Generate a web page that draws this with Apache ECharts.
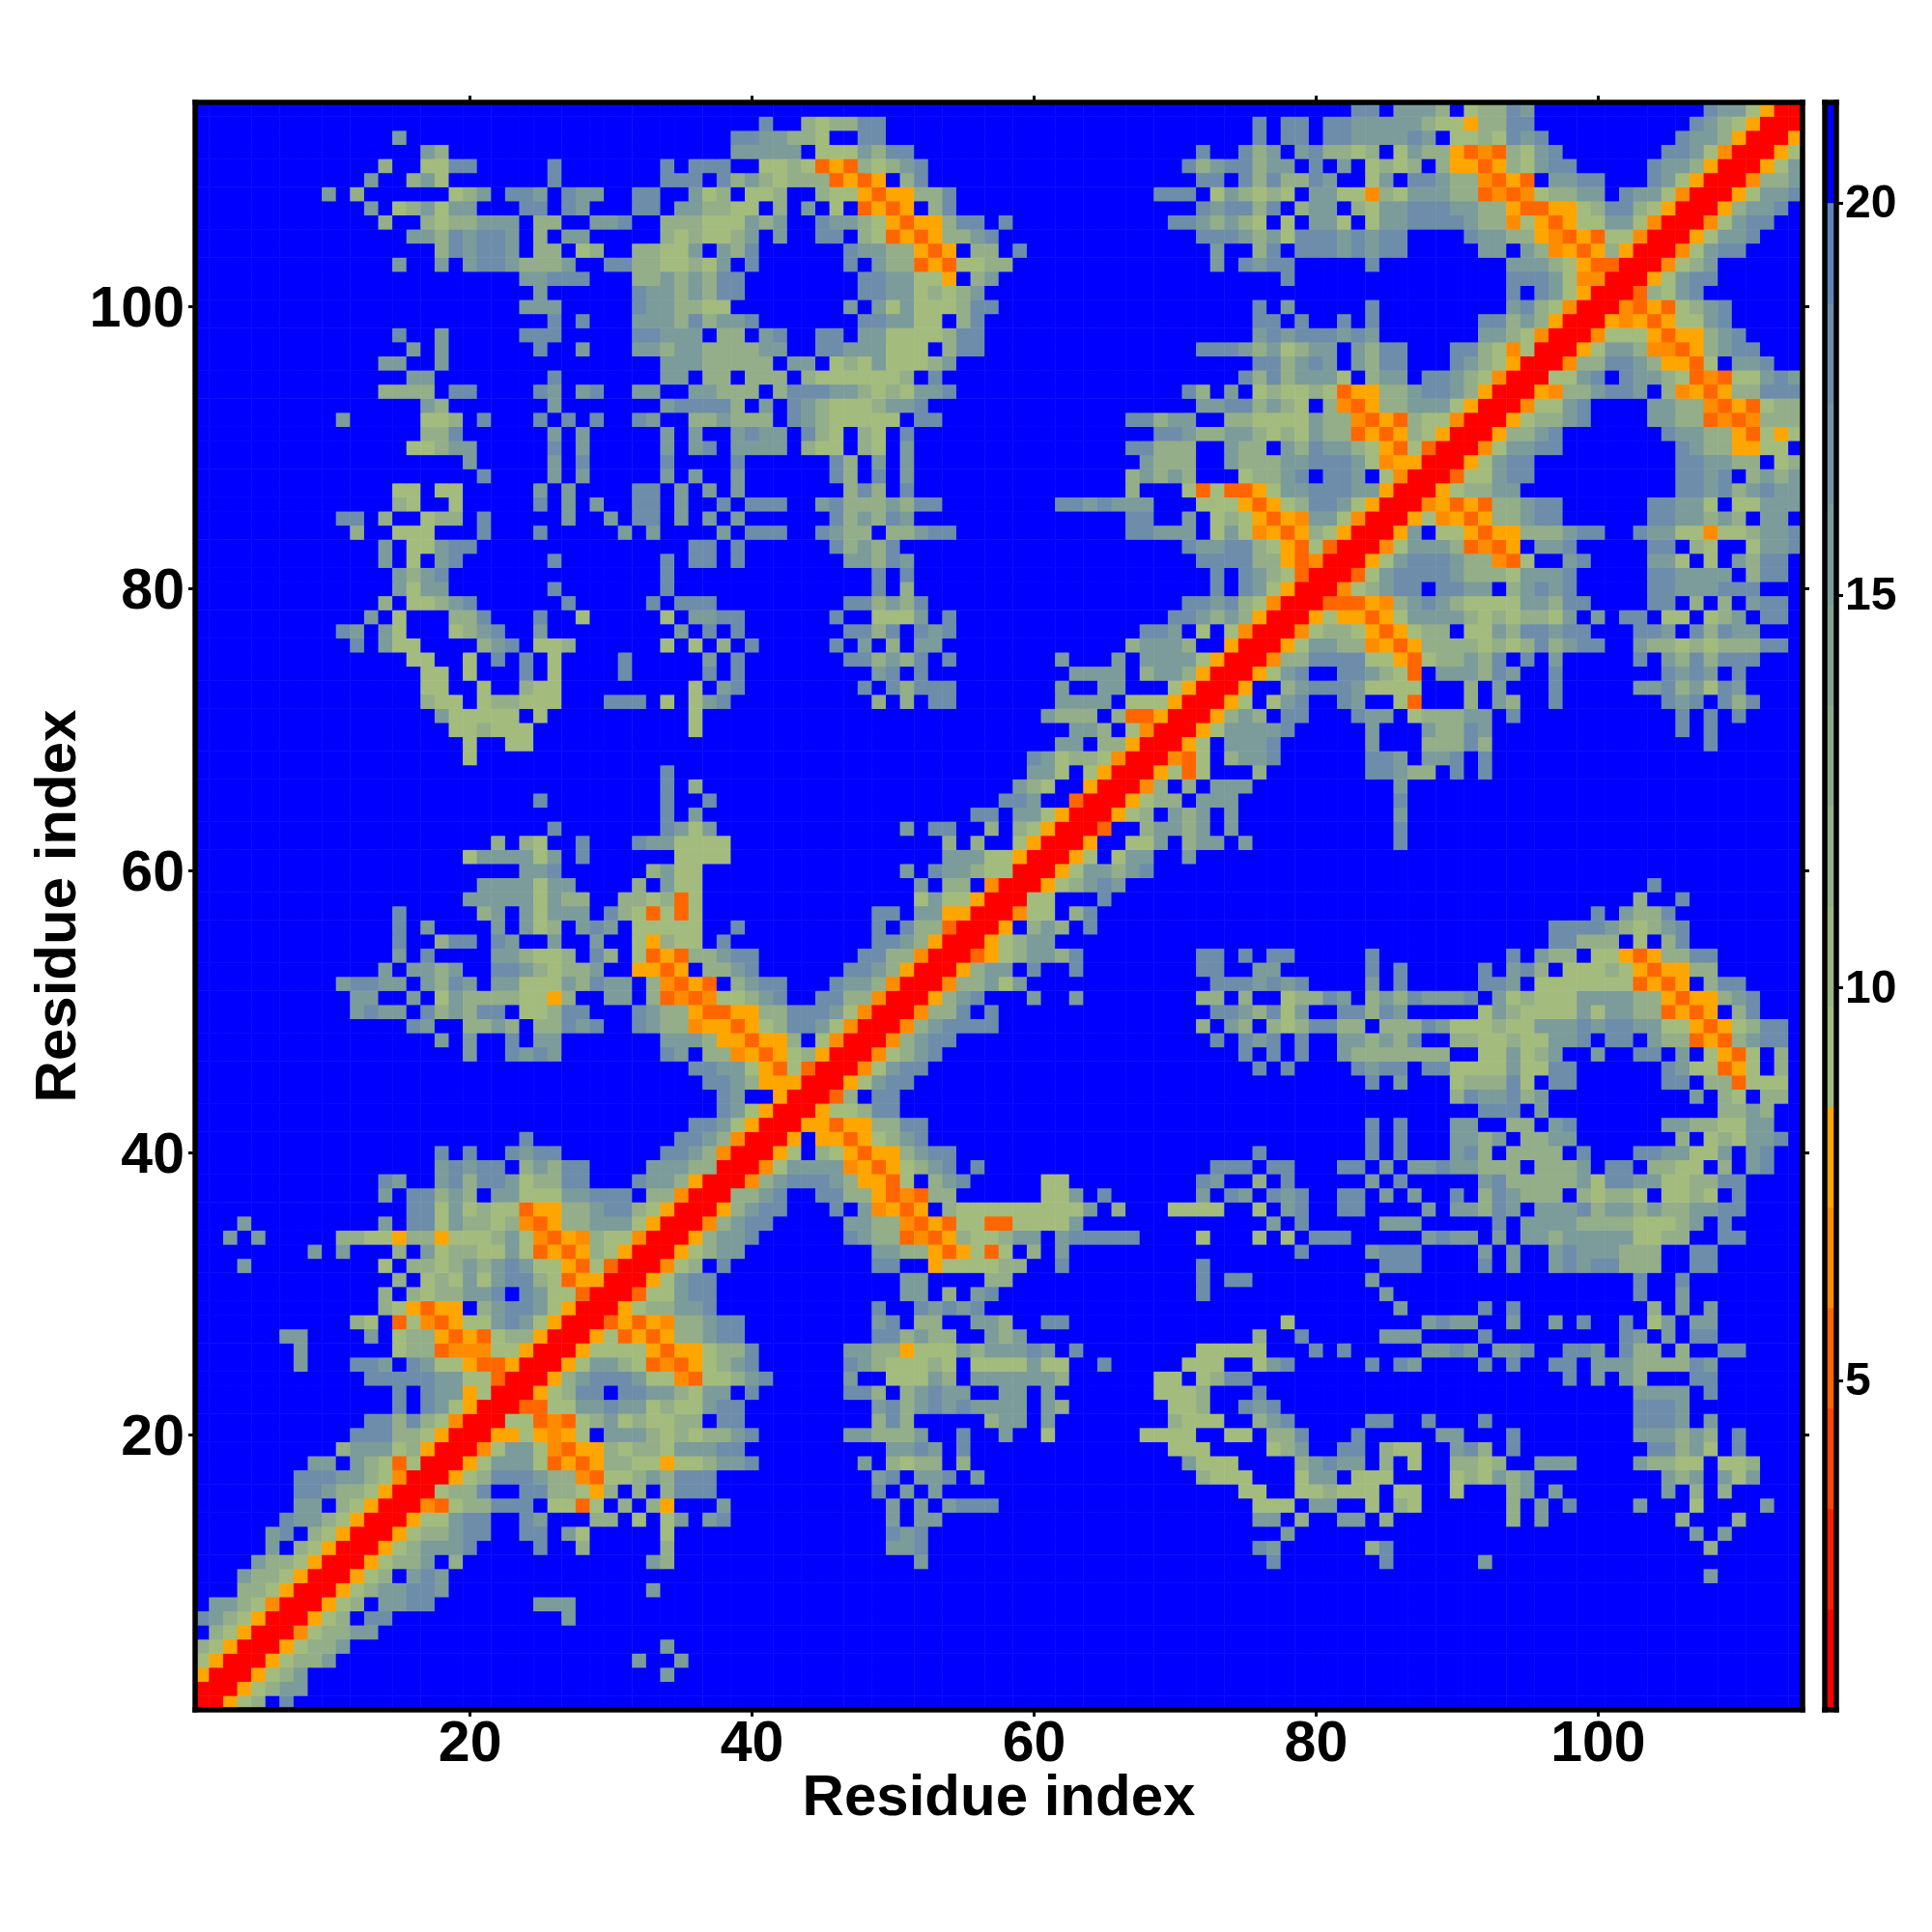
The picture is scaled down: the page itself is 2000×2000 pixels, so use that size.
<!DOCTYPE html>
<html><head><meta charset="utf-8">
<style>html,body{margin:0;padding:0;background:#fff}#c{width:2000px;height:2000px}</style>
<script src="https://cdn.jsdelivr.net/npm/echarts@6/dist/echarts.min.js"></script>
</head><body><div id="c"></div>
<script>
// Distance classes (r red ... q orange, A..D sage to steel blue).
const classValue = {r:1.5, o:5.3, p:6.5, q:7.8, A:9.1, B:11.7, C:15.0, D:18.0};
const blankValue = 21;
const residues = 114;
const breaks = [0.8,2.08,3.36,4.64,5.92,7.2,8.48,9.76,11.04,12.32,13.6,14.88,16.16,17.44,18.72,20,21.28];
const colors = ['#FF0000','#FF1E00','#FF4600','#FF6600','#FF8C00','#FFA500','#A3BB7D','#9BB582','#93AE88','#8BA88E','#84A194','#7C9B9B','#7594A2','#6D8DAA','#6084B6','#0000FF'];
const axisTicks = [20,40,60,80,100];
const barTicks = [5,10,15,20];
// One entry per residue: "startColumn:classes" runs for the cells at or right of the diagonal.
const rows = [
"1:rrqAB.D","2:rrqABCC","3:rrqABC 34:C","4:rrqABBC 32:C 35:C","5:rrqABBC 34:C","6:rrpABBCC","7:rrqAB.DD 27:C","8:rrqAB.CCDD 25:CCC","9:rrqABCCDDC 33:C","10:rrqAB.CDC 108:C",
"11:rrqABBC.B 33:CB 52:C 77:D 85:D 92:C",
"12:rrqABCCCD 25:D 28:B 34:B 50:CCD 76:DC 84:BD 108:B",
"13:rrqABBCDD 24:DD 27:CA 34:A 50:DCD 78:C 107:C 109:C",
"14:rrqAACDD 24:DC 29:BB 32:A 34:AC 37:CD 50:C 52:CC 76:CC 79:B 82:CC 85:B 94:B 96:C 106:B 110:B",
"15:rrpoABBDDD 26:AAoA 31:B 33:Bq 38:C 50:C 52:C 54:CDDD 76:AAA 80:CC 84:A 86:BA 94:B 96:C 98:D 103:C 107:A 112:C",
"16:rrABBD 24:DDBBAqB 32:B 34:BDDD 49:D 51:C 53:C 75:AA 79:AABAAA 86:AA 90:A 94:BC 97:C 105:C 107:B 109:B",
"17:rrqABDDDCBBpoAABCBDDD 49:CD 52:CCD 56:C 72:BAAA 79:ACC 83:AAA 90:ABACBC 105:CBC 109:CAC",
"18:rrqACCCAoqoqBBAAqAABCCD 48:C 50:BABB 55:B 71:CAAA 79:BCDCC 85:B 87:A 90:BBAB 96:CCC 103:CBBAA 109:AAB",
"19:rrpACCApoqqBABBACCCDD 50:CCDC 55:D 70:AAA 77:ABC 82:DD 85:BAA 90:CDB 94:D 104:DDBCA 110:D",
"20:rrqqAqpqA.CCCBABABBCD 47:CCBBBC 55:D 58:C 61:A 68:AAAA 74:AA 77:BBD 83:D 89:CC 94:D 103:CCCBCB 110:D",
"21:rrAAopoABCABAABB.DD 49:BDB 57:BCC 61:C 70:BAAA 76:BCD 84:DD 88:D 92:D 103:DDDC 108:C",
"22:rrooAACCDCCABAACDD 49:CDBCDCDCCCC 61:CB 70:AAB 75:DCD 103:DDDC",
"23:rrqABDD.DDCCBACC.D 47:DDB.BCDCC 58:CC 61:C 69:AAAB 76:D 103:CCCC 108:D",
"24:rrqBCDDDCAApoAABCD 47:C 50:AAACB 56:CCCCCCB 69:AA 72:AB 74:DD 98:D 100:C 102:CB 107:DD",
"25:rrqACCBAopoqABCD 47:DCBAAABA 56:AAAACAA 65:D 71:AAA 76:ACD 84:D 86:DC 92:D 94:D 97:DD 100:CCCBBBBDC",
"26:rrqAAAAqoqqABBD 47:CCBBqAAACBCCCDC 63:D 72:AAAAA 80:D 82:D 88:CCDC 93:CCD 98:DDC 102:DBB 106:B 109:DD",
"27:rrqAoqoqBBCDD 49:DDBCBB 57:CBC 76:B 79:D 85:CCC 92:D 102:DC 105:C 107:DD",
"28:rroqoqpBBCDD 49:CD 52:BB 56:CCB 61:DD 78:A 88:CDCC 94:C 97:C 99:D 102:D 104:AC 107:CC",
"29:rrqABBCCD 49:D 52:DCDCD 86:C 92:D 94:D 104:B 106:C 108:C",
"30:rroAACDD 51:CC 54:B 56:CD 72:D 85:C 103:D 106:C",
"31:rrqACDD 51:CC 57:BB 72:D 74:DD 84:C 103:D 106:D",
"32:rrpAB.D 49:DD 53:qAAAABB 62:D 72:D 85:DDD 92:D 94:C 97:CDCDDBBB 107:DD",
"33:rrqABCC 49:CCBBqoqAoA 60:B 62:C 79:D 84:CDDD 92:C 94:C 97:CDCCCBBB 107:DD",
"34:rrqBCCD 47:DCBBopoqBAABCC 62:CDDDDD 72:A 76:A 78:A 80:DDD 88:CDCC 93:C 95:CCBCCCCCAABB 109:DD",
"35:rrpBCDD 47:CCBBpoqoAAoo 59:AAAAC 77:C 79:D 85:CCC 93:D 95:CCCCBBBBAAABC 109:D",
"36:rrqBCDD 46:D 48:Cpqoq 54:BAAAAAAAAAC 66:B 70:AAAA 76:A 78:CD 82:DD 88:C 90:CCBDC 96:CCCDBCCBCBBCCDD",
"37:rrBBCD 45:DDBBqopoBB 61:AAC 65:D 72:C 74:DC 77:DCD 82:DD 85:C 87:C 90:D 92:BDCBBB 99:BABBA 105:AABA 110:D",
"38:rrpBCDDDCBqqoA.BCD 61:AA 72:DC 76:B 78:D 84:C 86:D 92:CDBBBBBCADDCCAABBDD",
"39:rrpACCCCpqoqABCD.D 73:DDD 77:DD 82:DD 85:C 87:CCDCCBBB 96:BBBC 101:DD 104:BBAA 109:B 111:CD",
"40:rrqA.BAqoqqBCDD 76:D 84:D 86:D 90:CDB 94:BBBB 99:D 103:DDCCAAC 111:CD",
"41:rrq.qqoqABCD 84:D 86:D 90:CCBC 95:BBCC 106:B 108:ABACCD",
"42:rrqqoqqBBDD 84:D 86:D 90:CC 94:BB 97:CD 105:CCBBAACC",
"43:rrqAABDD 92:DDD 96:C 109:BBCB",
"44:rroB.DD 90:BDCCDBC 107:C 109:BA 112:BB",
"45:rrqACDD 84:D 86:C 90:ABBBDA 97:DD 105:DD 108:BBoAAA",
"46:rrpACDD 76:D 78:D 83:DCDD 88:DD 90:AAAACAA 97:DD 105:DCAAoqA 113:B",
"47:rrpABCD 75:D 77:D 79:D 82:CBBBBBBB 92:AACABC 100:C 103:DD 106:C 108:AqoA 113:B",
"48:rrpBCDD 73:D 75:DCD 79:D 82:CCBCBD 90:BBAABAACCD 101:DD 104:CBBoqoBCDD",
"49:rrpBCDDDD 72:B 74:CB 77:BABDDBB 85:BBBDCAAABAACCCDCDDCCAAqoqABDD",
"50:rrpBBD.D 73:DDCBDAC 82:DD 84:BDC 92:ACBAAAACACCBBoqoq.BD",
"51:rrqBCD 60:C 63:C 72:BB 75:B 78:ABBDC 84:BCBD 88:CCCD 93:CABAAACCCCBBqoqqBCD",
"52:rrpBBCAC 73:DDDCDCD 84:C 86:D 92:DDC 96:AAAAAAAoqoq.BDD",
"53:rrqBCC.D 63:D 72:DD 76:CC 84:D 86:D 92:D 94:CDB 98:AAABAqoqqBB",
"54:rroqABCCBD 72:DD 75:D 77:DD 84:D 94:D 96:CBB 100:AAqoqBBDD",
"55:rrqABCC 97:DDBBB 103:A 105:BD",
"56:rrq.BCB.D 97:DDDDCBABCD",
"57:rrpAA.BD 100:D 102:CBBD",
"58:rrAA 65:D 103:B 106:D",
"59:rrqABCDC 104:D",
"60:rrqACCBCD",
"61:rrqA.ACC 71:C",
"62:rrq..AAC.BCC.C 86:D",
"63:rro..BCCBC.C 86:D",
"64:rrqAB.CBC.C 86:C",
"65:rrqABB.CCC 86:D",
"66:rrpB.B.CCC 86:C",
"67:rrqAoA 76:B 84:DDCBB 90:D 92:D",
"68:rrpoA.BCCD 84:DDC 88:CCD 92:D",
"69:rrqA.CCCD 84:C 88:BBBDB 108:D",
"70:rrqACCCCD 84:C 88:CBBDC 106:D 108:D",
"71:rrqBCB.DD 83:DCC 87:ABBBCC 94:D 106:D 108:D 110:D",
"72:rrqA.ACD 82:DC 86:Ao 91:B 93:CB 97:D 105:DCD 109:DBD",
"73:rrq..BCDDDCAAA 87:A 91:B 93:C 97:D 103:CCDBCADC",
"74:rrqACD 82:DDCBAo 89:CCCBDC 97:D 105:DCDC 110:D",
"75:rrpBBDDDDAAqoABBCBD 95:D 97:C 103:D 105:CBDBDDD",
"76:rrqACCBBpqoqBBBBABABDBCDD 103:CBBABABBBDD",
"77:rrpABBAqoqABB.AACBDDCDD 103:DDC.DBDCC",
"78:rrqAqqoqACCCCBABABBAC.C 102:DD 105:AA 108:ABC 112:DD",
"79:rroooqpBCDCBAAAACCBDD 104:DD 107:B 109:B 111:CDD",
"80:rrpABCDD.DDCC.BCDCD 104:DDCCCDDD",
"81:rroACDDDDCBBBACCCD 104:DDCCCC.BDD",
"82:rrqACDDDCBBpoA..CD 104:CCA.A.CBDD",
"83:rrpACCCBopoq.CCD 104:DD.BA..ACCD",
"84:rrqC.AAqoqqBBBCDD 103:DCCAApAABCCD",
"85:rrqApqoqBBCDD 104:DDCCBCB.CC",
"86:rrpqoqoBBCDD 104:DDCCA.AACCC",
"87:rrqABBCC 106:DDCDBCDCC",
"88:rroAACDD 106:DDCD.BCBC",
"89:rrqACDD 106:DDCCBB.AB",
"90:rrpACCDD 106:DCBBqqAA",
"91:rrqBBCD 105:DCCBBqoAqA",
"92:rrqABBCD 104:CCBBopopBBB",
"93:rrpAACD 104:CCBBpoqoABB",
"94:rrqpBBCDDC.BpqoqBBDDD",
"95:rrAACD.DCCBAopoAACDC",
"96:rrpBBDDCBqqoA.CCD",
"97:rrqACCBppoqBCDD",
"98:rrpAAAqoqqBCD",
"99:rrqpqoqAACD",
"100:rrpoqoABCD",
"101:rroBACD",
"102:rrqACDD",
"103:rrpABC",
"104:rrpACDD",
"105:rrqACCD",
"106:rrpACDD",
"107:rrqBCCD",
"108:rrqACCD",
"109:rrpBBC",
"110:rrqAC",
"111:rrqA",
"112:rrq",
"113:rr",
"114:r"
];

const labels = Array.from({length:residues},(_,i)=>String(i+1));
const grid = labels.map(()=>labels.map(()=>blankValue));
rows.forEach((row,r)=>{
  row.split(' ').forEach(seg=>{
    const [start,chars] = seg.split(':');
    [...chars].forEach((ch,k)=>{
      if(ch==='.') return;
      const c = +start-1+k;
      if(c<residues){ grid[r][c]=classValue[ch]; grid[c][r]=classValue[ch]; }
    });
  });
});
const cells=[];
grid.forEach((line,y)=>line.forEach((v,x)=>cells.push([x,y,v])));
const bandLabels = colors.map((_,i)=>String(i));
const bandCells = colors.map((_,i)=>[0,i,(breaks[i]+breaks[i+1])/2]);
const pieces = colors.map((color,i)=>({gte:breaks[i],lt:breaks[i+1],color}));

const font='"Liberation Sans"';
const frame={show:true,lineStyle:{color:'#000',width:5.5,cap:'square'}};
const showIdx=(i)=>axisTicks.includes(i+1);
const tick={show:true,alignWithLabel:true,interval:showIdx,length:7,lineStyle:{color:'#000',width:3}};
const bigLabel={show:true,interval:showIdx,color:'#000',fontFamily:font,fontWeight:'bold',fontSize:59};
const nameStyle={color:'#000',fontFamily:font,fontWeight:'bold',fontSize:60};
const off={show:false};
const chart=echarts.init(document.getElementById('c'),null,{renderer:'canvas'});
chart.setOption({
  animation:false,
  backgroundColor:'#fff',
  visualMap:{type:'piecewise',show:false,seriesIndex:[0,1],pieces},
  grid:[
    {left:202,top:106,width:1664,height:1664,outerBoundsMode:'none'},
    {left:1889,top:106,width:12,height:1664,outerBoundsMode:'none'}
  ],
  xAxis:[
    {type:'category',gridIndex:0,position:'bottom',data:labels,z:10,axisLine:frame,axisTick:tick,splitLine:off,
      axisLabel:{...bigLabel,margin:7},name:'Residue index',nameLocation:'middle',nameGap:62,nameMoveOverlap:false,nameTextStyle:nameStyle},
    {type:'category',gridIndex:0,position:'top',data:labels,z:10,axisLine:frame,axisTick:tick,axisLabel:off,splitLine:off},
    {type:'category',gridIndex:1,position:'bottom',data:['0'],z:10,axisLine:frame,axisTick:off,axisLabel:off,splitLine:off},
    {type:'category',gridIndex:1,position:'top',data:['0'],z:10,axisLine:frame,axisTick:off,axisLabel:off,splitLine:off}
  ],
  yAxis:[
    {type:'category',gridIndex:0,position:'left',data:labels,z:10,axisLine:frame,axisTick:tick,splitLine:off,
      axisLabel:{...bigLabel,margin:11,verticalAlign:'top',padding:[-25,0,0,0]},name:'Residue index',nameLocation:'middle',nameGap:111,nameRotate:90,nameMoveOverlap:false,nameTextStyle:nameStyle},
    {type:'category',gridIndex:0,position:'right',data:labels,z:10,axisLine:frame,axisTick:tick,axisLabel:off,splitLine:off},
    {type:'category',gridIndex:1,position:'left',data:bandLabels,z:10,axisLine:frame,axisTick:off,axisLabel:off,splitLine:off},
    {type:'value',gridIndex:1,position:'right',min:breaks[0],max:breaks[breaks.length-1],z:10,axisLine:frame,splitLine:off,
      axisTick:{show:true,length:7,customValues:barTicks,lineStyle:{color:'#000',width:3}},
      axisLabel:{show:true,customValues:barTicks,margin:9,verticalAlign:'top',padding:[-22,0,0,0],color:'#000',fontFamily:font,fontWeight:'bold',fontSize:48,showMinLabel:true,showMaxLabel:true}}
  ],
  series:[
    {type:'heatmap',xAxisIndex:0,yAxisIndex:0,data:cells,progressive:0,itemStyle:{borderWidth:0},emphasis:{disabled:true}},
    {type:'heatmap',xAxisIndex:2,yAxisIndex:2,data:bandCells,progressive:0,itemStyle:{borderWidth:0},emphasis:{disabled:true}}
  ]
});
</script></body></html>
